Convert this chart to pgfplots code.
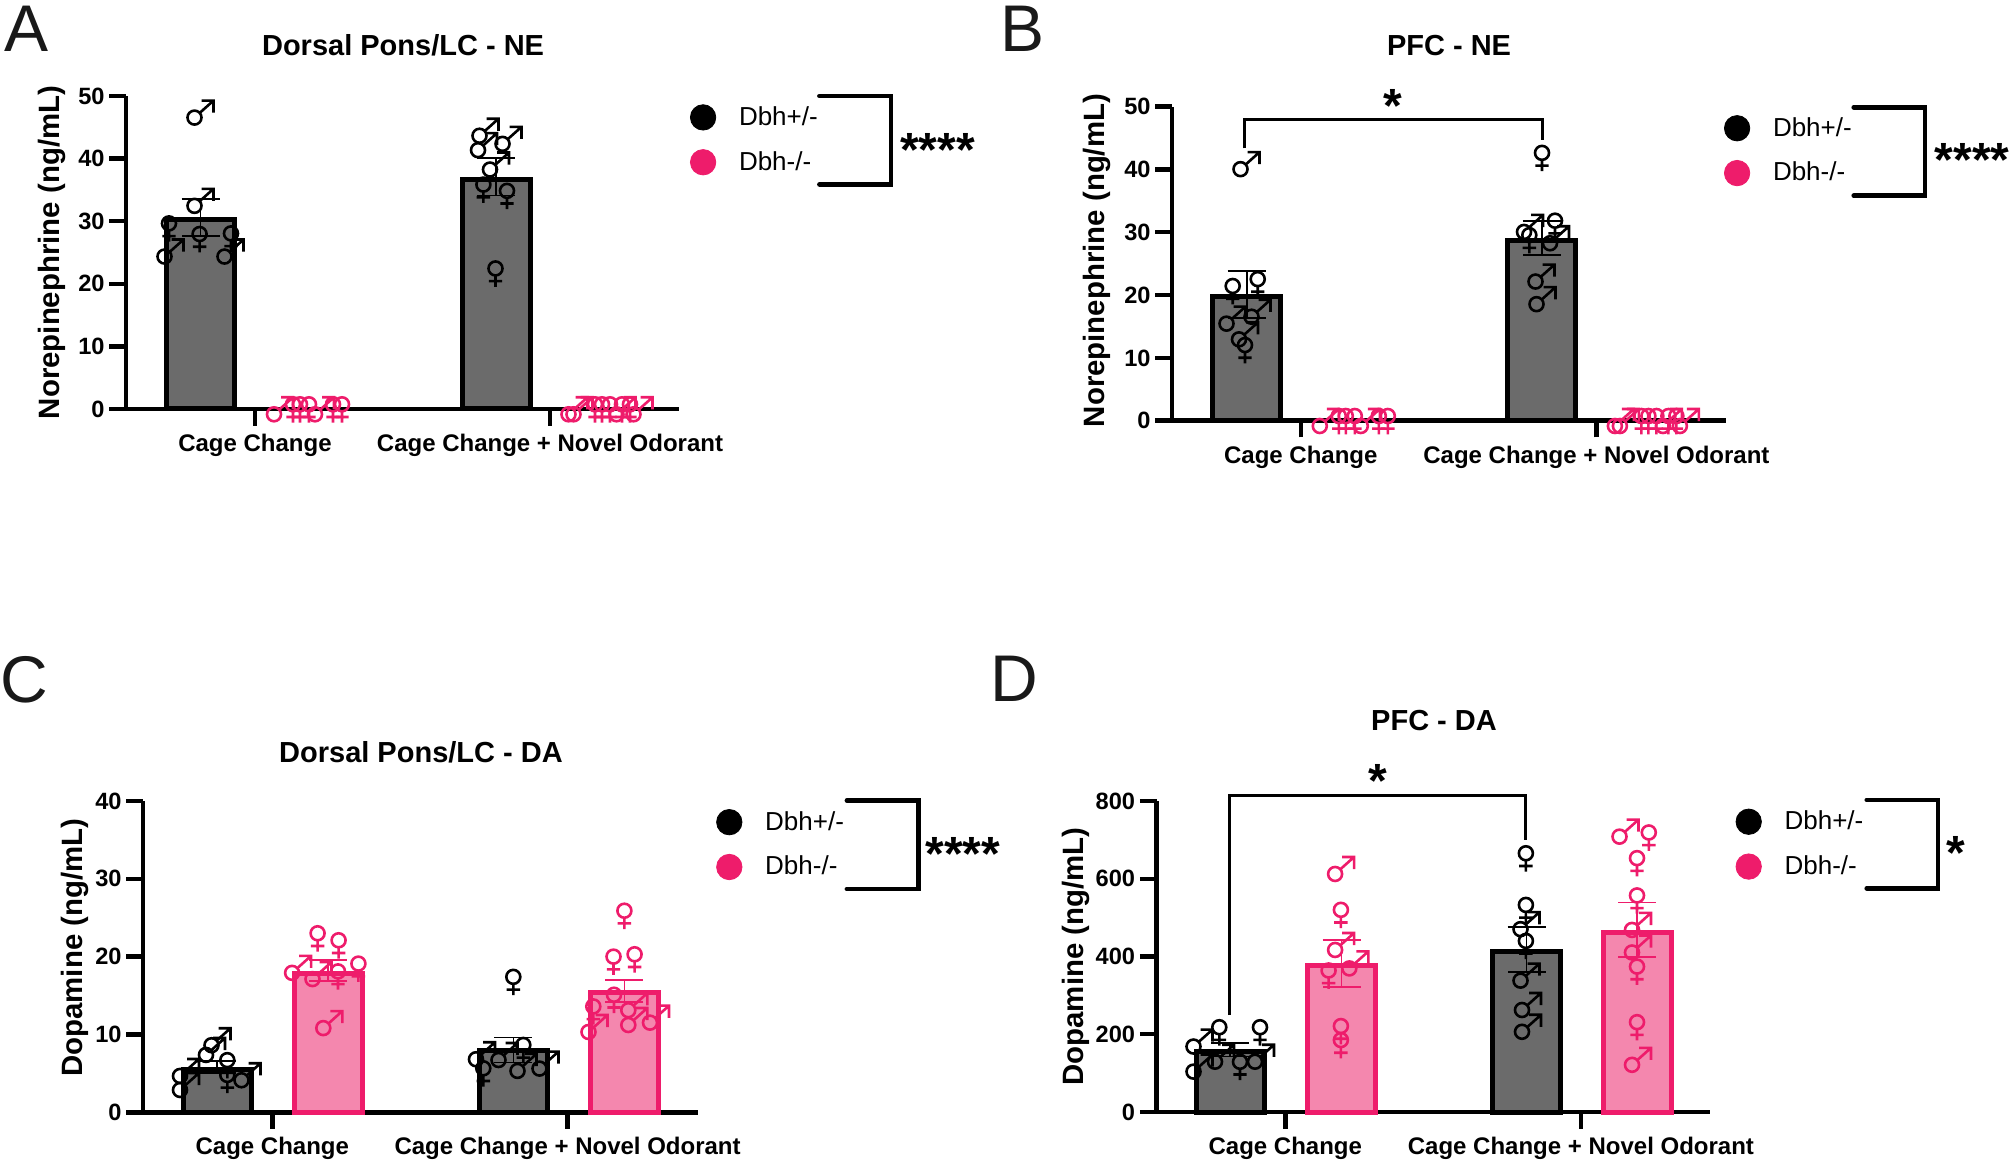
\documentclass[border=0pt]{standalone}
\usepackage{fontspec}
\usepackage{pgfplots}
\pgfplotsset{compat=1.18}
\setmainfont{Liberation Sans}
\definecolor{barg}{HTML}{6B6B6B}
\definecolor{pinkE}{HTML}{EE1C6B}
\definecolor{pinkF}{HTML}{F487AE}
\pgfdeclareplotmark{male}{%
  \pgfpathcircle{\pgfpoint{-2.25pt}{-2.65pt}}{3.5pt}%
  \pgfpathmoveto{\pgfpoint{0.36pt}{-0.32pt}}\pgfpathlineto{\pgfpoint{7.25pt}{5.85pt}}%
  \pgfpathmoveto{\pgfpoint{1.25pt}{5.85pt}}\pgfpathlineto{\pgfpoint{7.25pt}{5.85pt}}\pgfpathlineto{\pgfpoint{7.25pt}{-0.2pt}}%
  \pgfusepath{stroke}}
\pgfdeclareplotmark{female}{%
  \pgfpathcircle{\pgfpoint{0pt}{2.35pt}}{3.5pt}%
  \pgfpathmoveto{\pgfpoint{0pt}{-1.15pt}}\pgfpathlineto{\pgfpoint{0pt}{-6.8pt}}%
  \pgfpathmoveto{\pgfpoint{-3.35pt}{-4pt}}\pgfpathlineto{\pgfpoint{3.35pt}{-4pt}}%
  \pgfusepath{stroke}}
\pgfplotsset{
  panel/.style={
    scale only axis, anchor=south west, clip=false,
    axis lines=left, axis line style={-,line width=2.3pt,black},
    tick style={line width=2.2pt,black}, tick align=outside, major tick length=8.3pt,
    ymin=0,
    /pgf/number format/assume math mode=true,
    /pgf/number format/1000 sep={},
    yticklabel style={font=\bfseries\fontsize{11.8}{14}\selectfont,inner sep=1pt,xshift=-1.2pt},
    xticklabel style={font=\bfseries\fontsize{12}{14}\selectfont,yshift=-0.7pt},
    ylabel style={font=\bfseries\fontsize{14.7}{17}\selectfont},
    every axis title shift=0pt,
    title style={font=\bfseries\fontsize{14.5}{17}\selectfont,anchor=center},
    legend cell align=left,
    legend style={draw=none,fill=none,inner sep=0pt,outer sep=0pt,anchor=west,row sep=7.5pt,
      font=\fontsize{13}{15}\selectfont,
      /tikz/every odd column/.append style={column sep=9.6pt}},
  },
  gbar/.style={ybar,bar width=34pt,bar shift=0pt,draw=black,fill=barg,line width=2.5pt,forget plot},
  pbar/.style={ybar,bar width=34pt,bar shift=0pt,draw=pinkE,fill=pinkF,line width=2.5pt,forget plot},
  gerr/.style={forget plot,draw=none,mark=none,error bars/.cd,y dir=both,y explicit,
    error bar style={line width=.9pt,black},
    error mark options={rotate=90,mark size=9.5pt,line width=.9pt,black}},
  perr/.style={forget plot,draw=none,mark=none,error bars/.cd,y dir=both,y explicit,
    error bar style={line width=.9pt,pinkE},
    error mark options={rotate=90,mark size=9.5pt,line width=.9pt,pinkE}},
  gm/.style={forget plot,only marks,mark=male,mark options={solid,draw=black,fill=none,line width=1.3pt},black},
  gf/.style={forget plot,only marks,mark=female,mark options={solid,draw=black,fill=none,line width=1.3pt},black},
  pm/.style={forget plot,only marks,mark=male,mark options={solid,draw=pinkE,fill=none,line width=1.3pt},pinkE},
  pf/.style={forget plot,only marks,mark=female,mark options={solid,draw=pinkE,fill=none,line width=1.3pt},pinkE},
}
\newcommand{\legendimages}{%
  \addlegendimage{only marks,mark=*,mark size=6.35pt,draw=black,fill=black}\addlegendentry{Dbh+/-}
  \addlegendimage{only marks,mark=*,mark size=6.35pt,draw=pinkE,fill=pinkE}\addlegendentry{Dbh-/-}
}
\newcommand{\bracket}[4]{%
  \draw[line width=2.4pt,line cap=round,line join=miter] (#1,#3)--(#2,#3)--(#2,#4)--(#1,#4);}
\newcommand{\stars}[3]{\node[anchor=base,inner sep=0pt,font=\bfseries\fontsize{24}{24}\selectfont] at (#1,#2+24.5) {#3};}
\newcommand{\letter}[3]{\node[anchor=base west,inner sep=0pt,text=black!90,font=\fontsize{33}{33}\selectfont] at (#1,#2) {#3};}
\begin{document}
\begin{tikzpicture}
\path[use as bounding box] (0,0) rectangle (1007pt,-582.5pt);

% ---------- A
\begin{axis}[panel,at={(63pt,-204.5pt)},width=276.5pt,height=156.5pt,
  xmin=126,xmax=679,ymax=50,ytick={0,10,20,30,40,50},
  xtick={255,550},xticklabels={Cage Change,Cage Change + Novel Odorant},
  title={Dorsal Pons/LC - NE},title style={at={(axis description cs:0.501,1.1607)}},
  ylabel={Norepinephrine (ng/mL)},ylabel style={at={(axis description cs:-0.1333,0.5)},anchor=center},
  legend style={at={(axis cs:690.4,43.0)}}]
\legendimages
\addplot[gbar] coordinates {(200.5,30.2) (496,36.7)};
\addplot[gm] coordinates {(199,47.4) (199,33.3) (169,25.2) (229,25.2) (484,44.5) (507,43.2) (482.5,42.2) (494.5,39.1)};
\addplot[gf] coordinates {(169,28.9) (199.6,27.2) (231,27.3) (483.4,35.1) (507,34.1) (495.5,21.7)};
\addplot[gerr] coordinates {(200.5,30.6) +- (0,3) (496,37.1) +- (0,3)};
\addplot[pm] coordinates {(278.5,0) (319.5,0) (573,0) (578,0) (621,0) (638,0)};
\addplot[pf] coordinates {(293,0) (300,0) (309,0) (333,0) (342,0) (595,0) (602,0) (610,0) (622,0) (630,0)};
\end{axis}

% ---------- B
\begin{axis}[panel,at={(586pt,-210.35pt)},width=276.85pt,height=157pt,
  xmin=1172,xmax=1725.7,ymax=50,ytick={0,10,20,30,40,50},
  xtick={1300.8,1596.4},xticklabels={Cage Change,Cage Change + Novel Odorant},
  title={PFC - NE},title style={at={(axis description cs:0.5003,1.194)}},
  ylabel={Norepinephrine (ng/mL)},ylabel style={at={(axis description cs:-0.1355,0.51)},anchor=center},
  legend style={at={(axis cs:1724.4,43.0)}}]
\legendimages
\addplot[gbar] coordinates {(1246.6,19.8) (1541.6,28.7)};
\addplot[gm] coordinates {(1245,40.9) (1231,16.3) (1256,17.4) (1243.5,13.8) (1528.5,30.9) (1554.5,29.1) (1540,23) (1541,19.4)};
\addplot[gf] coordinates {(1232.7,20.7) (1257.7,21.8) (1245,11.3) (1542,41.9) (1555,31.1) (1529.3,28.8)};
\addplot[gerr] coordinates {(1246.6,20.15) +- (0,3.75) (1541.6,29.1) +- (0,2.7)};
\addplot[pm] coordinates {(1324.3,0) (1365.3,0) (1619.4,0) (1624.4,0) (1667.4,0) (1684.4,0)};
\addplot[pf] coordinates {(1338.8,0) (1345.8,0) (1354.8,0) (1378.8,0) (1387.8,0) (1641.4,0) (1648.4,0) (1656.4,0) (1668.4,0) (1676.4,0)};
\end{axis}

% ---------- C
\begin{axis}[panel,at={(71.45pt,-556.15pt)},width=277.55pt,height=155.65pt,
  xmin=142.9,xmax=698,ymax=40,ytick={0,10,20,30,40},
  xtick={272.3,567.6},xticklabels={Cage Change,Cage Change + Novel Odorant},
  title={Dorsal Pons/LC - DA},title style={at={(axis description cs:0.501,1.158)}},
  ylabel={Dopamine (ng/mL)},ylabel style={at={(axis description cs:-0.1223,0.529)},anchor=center},
  legend style={at={(axis cs:716.6,34.4)}}]
\legendimages
\addplot[gbar] coordinates {(217,5.5) (513.4,8.0)};
\addplot[pbar] coordinates {(328,17.8) (624.4,15.4)};
\addplot[gm] coordinates {(216,9.3) (210.5,8.05) (246,4.8) (184.5,5.35) (184.5,3.55) (480.5,7.5) (503,7.4) (522,6) (544,6.3)};
\addplot[gf] coordinates {(227.3,6.1) (227.3,4.2) (513.3,16.8) (523.3,8.05) (483.3,5.05)};
\addplot[gerr] coordinates {(217,5.8) +- (0,0.8) (513.4,8.0) +- (0,1.6)};
\addplot[pm] coordinates {(296.6,18.6) (317,17.8) (327.8,11.5) (593,11) (632.8,13.8) (632.8,11.9) (654.5,12.2)};
\addplot[pf] coordinates {(317.6,22.4) (338.6,21.5) (358.4,18.5) (338,17.5) (624.4,25.3) (613.5,19.4) (634.6,19.7) (614,14.5) (593.3,13)};
\addplot[perr] coordinates {(328,18.2) +- (0,1.35) (624.4,15.6) +- (0,1.4)};
\end{axis}

% ---------- D
\begin{axis}[panel,at={(578.25pt,-556pt)},width=276.75pt,height=155.5pt,
  xmin=1156.5,xmax=1710,ymax=800,ytick={0,200,400,600,800},
  xtick={1285.3,1580.9},xticklabels={Cage Change,Cage Change + Novel Odorant},
  title={PFC - DA},title style={at={(axis description cs:0.5014,1.26)}},
  ylabel={Dopamine (ng/mL)},ylabel style={at={(axis description cs:-0.1454,0.5)},anchor=center},
  legend style={at={(axis cs:1736,689)}}]
\legendimages
\addplot[gbar] coordinates {(1230.3,156) (1526.5,412)};
\addplot[pbar] coordinates {(1341.5,376) (1637,463)};
\addplot[gm] coordinates {(1198,182) (1219.5,143) (1259.5,143) (1198,117.5) (1525,484) (1525,351.6) (1526.5,276) (1526.5,220)};
\addplot[gf] coordinates {(1219.3,206) (1260,206) (1240,117) (1525.9,653.5) (1525.9,520.6) (1525.9,428)};
\addplot[gerr] coordinates {(1230.3,160) +- (0,17) (1526.5,418) +- (0,57)};
\addplot[pm] coordinates {(1339.6,626) (1339.6,430.5) (1353.8,383) (1624,722) (1636.5,482) (1636.5,424) (1636.5,135)};
\addplot[pf] coordinates {(1340.9,508) (1328.6,352) (1340.9,209) (1340.9,173) (1648.8,707) (1637,641) (1637,545) (1637,362) (1637,219)};
\addplot[perr] coordinates {(1341.5,382) +- (0,60) (1637,469) +- (0,70)};
\end{axis}

\begin{scope}[x=0.5pt,y=-0.5pt]
\letter{4}{52}{A}
\letter{1000}{52}{B}
\letter{0}{703}{C}
\letter{990}{702}{D}
\bracket{819.5}{891}{96}{184.3}
\bracket{1853.8}{1925}{107.3}{195.7}
\bracket{847}{918.4}{800.7}{889}
\bracket{1866.8}{1938}{800}{888.3}
\stars{937.5}{141.7}{****}
\stars{1972}{151.7}{****}
\stars{963}{846}{****}
\stars{1955.4}{845}{*}
\stars{1393}{98}{*}
\stars{1377.7}{773}{*}
\draw[line width=1.5pt] (1244.5,148.3)--(1244.5,120)--(1542,120)--(1542,140);
\draw[line width=1.5pt] (1229.6,1015)--(1229.6,795)--(1525.9,795)--(1525.9,840);
\end{scope}
\end{tikzpicture}
\end{document}
